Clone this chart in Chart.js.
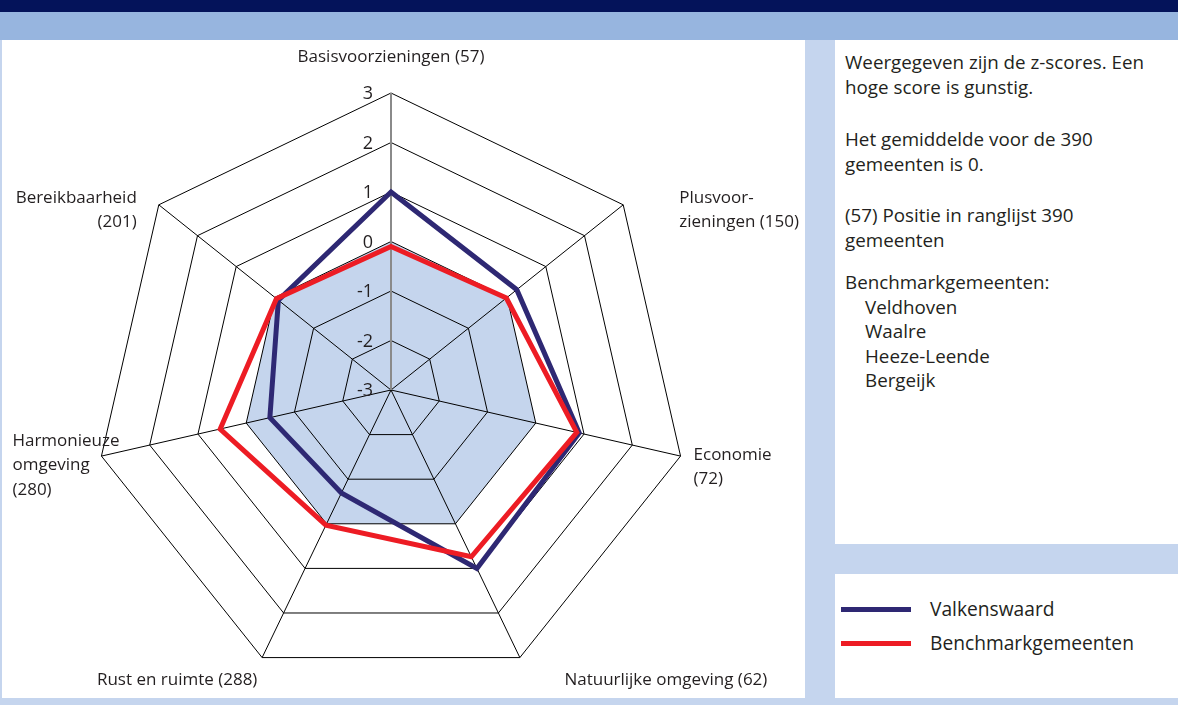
<!DOCTYPE html>
<html>
<head>
<meta charset="utf-8">
<script src="https://cdn.jsdelivr.net/npm/chart.js@4.4.1/dist/chart.umd.min.js"></script>
<style>
  html, body { margin: 0; padding: 0; }
  body {
    width: 1178px; height: 705px; position: relative; overflow: hidden;
    background: #c5d5ee; font-family: 'Open Sans', sans-serif; color: #231f20;
  }
  .topbar { position: absolute; left: 0; top: 0; width: 1178px; height: 12px; background: #04135a; }
  .band { position: absolute; left: 0; top: 12px; width: 1178px; height: 28px; background: #97b5df; }
  .panel { position: absolute; background: #fff; }
  #left { left: 2px; top: 40px; width: 803px; height: 658px; }
  #info { left: 835px; top: 40px; width: 343px; height: 504px; }
  #legend { left: 835px; top: 574px; width: 343px; height: 124px; }
  #chart { position: absolute; left: 0; top: 40px; }
  .txt { position: absolute; left: 845px; font-size: 18.8px; line-height: 24.5px; white-space: nowrap; }
  .indent { padding-left: 20px; }
  .swatch { position: absolute; left: 841px; width: 70px; height: 5px; }
  .ltxt { position: absolute; left: 930px; font-size: 19.2px; line-height: 24px; white-space: nowrap; }
</style>
</head>
<body>
<div class="topbar"></div>
<div class="band"></div>
<div class="panel" id="left"></div>
<div class="panel" id="info"></div>
<div class="panel" id="legend"></div>
<canvas id="chart" width="805" height="658"></canvas>

<div class="txt" style="top:50px">Weergegeven zijn de z-scores. Een<br>hoge score is gunstig.</div>
<div class="txt" style="top:127px">Het gemiddelde voor de 390<br>gemeenten is 0.</div>
<div class="txt" style="top:203px">(57) Positie in ranglijst 390<br>gemeenten</div>
<div class="txt" style="top:270px">Benchmarkgemeenten:<br><span class="indent">Veldhoven</span><br><span class="indent">Waalre</span><br><span class="indent">Heeze-Leende</span><br><span class="indent">Bergeijk</span></div>

<div class="swatch" style="top:607px; background:#2e2873"></div>
<div class="ltxt" style="top:597px">Valkenswaard</div>
<div class="swatch" style="top:641px; background:#ed1c24"></div>
<div class="ltxt" style="top:631px">Benchmarkgemeenten</div>

<script>
// axis labels, one entry per line
const categories = [
  ['Basisvoorzieningen (57)'],
  ['Plusvoor-', 'zieningen (150)'],
  ['Economie', '(72)'],
  ['Natuurlijke omgeving (62)'],
  ['Rust en ruimte (288)'],
  ['Harmonieuze', 'omgeving', '(280)'],
  ['Bereikbaarheid', '(201)'],
];

const valkenswaard = [1.0, 0.25, 0.9, 1.0, -0.69, -0.49, -0.09];
const benchmark = [-0.1, -0.02, 0.85, 0.74, 0.03, 0.54, -0.04];
const gemiddelde = [0, 0, 0, 0, 0, 0, 0];
const tickValues = [-3, -2, -1, 0, 1, 2, 3];

// where each label sits relative to its outer vertex
const labelLayout = [
  { dx: 0, dy: -36, align: 'center' },
  { dx: 56, dy: -7, align: 'left' },
  { dx: 13, dy: -1, align: 'left' },
  { dx: 146, dy: 23, align: 'center' },
  { dx: -85, dy: 23, align: 'center' },
  { dx: -89, dy: -15, align: 'left' },
  { dx: -22, dy: -7, align: 'right' },
];

const labelsPlugin = {
  id: 'radarLabels',
  afterDraw(chart) {
    const scale = chart.scales.r;
    const ctx = chart.ctx;
    ctx.save();
    ctx.fillStyle = '#231f20';
    ctx.textBaseline = 'middle';

    ctx.font = "17px 'Open Sans'";
    categories.forEach((lines, i) => {
      const p = scale.getPointPosition(i, scale.drawingArea);
      const lay = labelLayout[i];
      ctx.textAlign = lay.align;
      lines.forEach((line, j) => {
        ctx.fillText(line, p.x + lay.dx, p.y + lay.dy + j * 24.5);
      });
    });

    ctx.font = "18px 'Open Sans'";
    ctx.textAlign = 'right';
    tickValues.forEach((v) => {
      const y = scale.yCenter - scale.getDistanceFromCenterForValue(v);
      ctx.fillText(String(v), scale.xCenter - 18, y + 1);
    });
    ctx.restore();
  },
};

new Chart(document.getElementById('chart'), {
  type: 'radar',
  data: {
    labels: categories.map((l) => l.join(' ')),
    datasets: [
      {
        label: 'Benchmarkgemeenten',
        data: benchmark,
        borderColor: '#ed1c24',
        borderWidth: 5,
        borderJoinStyle: 'miter',
        pointRadius: 0,
        fill: false,
        order: 0,
      },
      {
        label: 'Valkenswaard',
        data: valkenswaard,
        borderColor: '#2e2873',
        borderWidth: 5,
        borderJoinStyle: 'miter',
        pointRadius: 0,
        fill: false,
        order: 1,
      },
      {
        label: 'Gemiddelde',
        data: gemiddelde,
        borderWidth: 0,
        borderColor: 'rgba(0,0,0,0)',
        backgroundColor: '#c5d5ed',
        pointRadius: 0,
        fill: 'start',
        order: 2,
      },
    ],
  },
  options: {
    responsive: false,
    animation: false,
    devicePixelRatio: 1,
    layout: { padding: { left: 94, right: 117, top: 53, bottom: 11 } },
    plugins: {
      legend: { display: false },
      tooltip: { enabled: false },
      filler: { drawTime: 'beforeDraw' },
    },
    scales: {
      r: {
        min: -3,
        max: 3,
        ticks: { stepSize: 1, display: false },
        pointLabels: { display: false },
        grid: { color: '#000', lineWidth: 1 },
        angleLines: {
          color: (c) => (c.index === 0 ? '#8a8a8a' : '#000'),
          lineWidth: (c) => (c.index === 0 ? 2 : 1),
        },
      },
    },
  },
  plugins: [labelsPlugin],
});
</script>
</body>
</html>
